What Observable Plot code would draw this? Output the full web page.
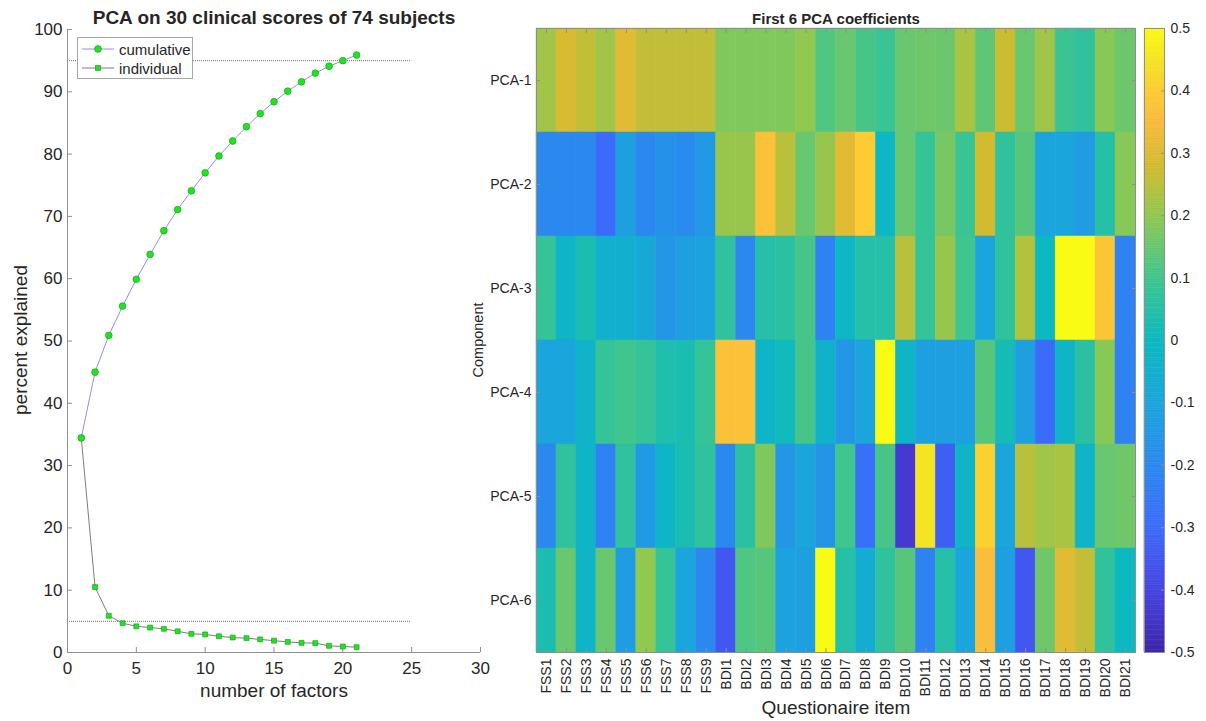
<!DOCTYPE html>
<html><head><meta charset="utf-8">
<script src="https://cdn.jsdelivr.net/npm/d3@7"></script>
<script src="https://cdn.jsdelivr.net/npm/@observablehq/plot@0.6"></script>
<style>
body{margin:0;background:#fff;font-family:"Liberation Sans",Arial,Helvetica,sans-serif;}
#root{position:relative;width:1206px;height:721px;overflow:hidden;background:#fff;}
.abs{position:absolute;left:0;top:0;}
.lbl{position:absolute;color:#262626;white-space:nowrap;transform:translate(-50%,-50%);line-height:1;}
#legend{position:absolute;left:77px;top:37px;width:114px;height:40px;border:1px solid #a6a6a6;background:#fff;font-size:15px;color:#262626;}
#legend .row{position:absolute;left:3px;height:18px;display:flex;align-items:center;}
#legend svg{display:block;margin-right:4px;}
</style></head><body><div id="root"></div>
<script>
// ---------- data ----------
const factors = [1,2,3,4,5,6,7,8,9,10,11,12,13,14,15,16,17,18,19,20,21];
const cumulative = [34.45,45.0,50.9,55.6,59.9,63.9,67.7,71.1,74.1,77.0,79.7,82.1,84.4,86.5,88.4,90.1,91.6,93.0,94.1,95.0,95.9];
const individual = [34.45,10.5,5.9,4.7,4.2,4.0,3.8,3.4,3.0,2.9,2.6,2.4,2.3,2.1,1.9,1.7,1.55,1.5,1.07,0.96,0.86];
const thresholds = [95, 5];
const xTicks = [0,5,10,15,20,25,30];
const yTicks = [0,10,20,30,40,50,60,70,80,90,100];

const items = ["FSS1","FSS2","FSS3","FSS4","FSS5","FSS6","FSS7","FSS8","FSS9",
  "BDI1","BDI2","BDI3","BDI4","BDI5","BDI6","BDI7","BDI8","BDI9","BDI10","BDI11",
  "BDI12","BDI13","BDI14","BDI15","BDI16","BDI17","BDI18","BDI19","BDI20","BDI21"];
const components = ["PCA-1","PCA-2","PCA-3","PCA-4","PCA-5","PCA-6"];
const coef1 = [0.22,0.29,0.26,0.22,0.31,0.26,0.26,0.26,0.26,0.18,0.18,0.18,0.18,0.20,0.12,0.15,0.11,0.09,0.15,0.16,0.155,0.23,0.14,0.27,0.15,0.22,0.09,0.07,0.19,0.155];
const coef2 = [-0.2,-0.2,-0.2,-0.3,-0.12,-0.2,-0.17,-0.19,-0.14,0.21,0.21,0.37,0.25,0.15,0.21,0.31,0.4,-0.01,0.15,0.08,0.17,0.09,0.28,0.07,0.13,-0.1,-0.1,-0.13,0.05,0.19];
const coef3 = [0.08,-0.02,0.03,-0.05,-0.05,-0.08,-0.15,-0.12,-0.11,0.07,-0.2,0.05,0.06,0.11,-0.22,-0.01,0.05,0.05,0.25,0.08,0.21,0.1,-0.1,0.07,0.24,0.0,0.5,0.5,0.38,-0.22];
const coef4 = [-0.1,-0.1,-0.03,0.08,0.1,0.08,0.04,0.03,0.08,0.37,0.37,-0.02,0.01,0.11,-0.04,-0.15,-0.1,0.5,-0.02,-0.12,-0.12,-0.12,0.13,0.02,-0.12,-0.3,-0.02,0.06,0.19,-0.22];
const coef5 = [-0.2,0.07,-0.02,-0.22,0.07,-0.14,-0.02,0.03,0.07,-0.2,0.06,0.18,-0.15,-0.1,-0.16,0.1,-0.28,0.11,-0.43,0.45,-0.33,-0.02,0.41,-0.1,0.25,0.22,0.23,-0.02,0.15,0.16];
const coef6 = [0.03,0.15,-0.02,0.15,-0.13,0.2,0.08,-0.1,-0.2,-0.35,0.12,0.13,-0.11,-0.12,0.5,0.05,-0.06,0.07,0.13,-0.22,0.05,-0.1,0.36,-0.12,-0.35,0.16,0.31,0.26,0.07,0.0];
const colorTicks = [-0.5,-0.4,-0.3,-0.2,-0.1,0,0.1,0.2,0.3,0.4,0.5];

// ---------- colormap (parula-like) ----------
const parulaPos = [0,0.1,0.2,0.3,0.4,0.5,0.6,0.7,0.78,0.85,0.9,0.95,1];
const parulaCol = ["#3e26a8","#4743e3","#3b6bfa","#2b88ef","#1aa5dc","#0cb9c0","#3fc58e","#90c850","#d2bb2e","#f8ba3e","#fccc32","#f4e424","#f9fb14"];
const parulaScale = d3.scaleLinear().domain(parulaPos).range(parulaCol).interpolate(d3.interpolateRgb).clamp(true);
const parula = (t) => parulaScale(t);
const colorOpts = {type: "linear", domain: [-0.5, 0.5], interpolate: parula, clamp: true};

const root = document.getElementById("root");
const font = '"Liberation Sans",Arial,Helvetica,sans-serif';
const axisGray = "#8f8f8f";
const textCol = "#262626";

function place(el, left, top) {
  el.classList.add("abs");
  el.style.left = left + "px";
  el.style.top = top + "px";
  root.appendChild(el);
}
function label(text, x, y, size, opts = {}) {
  const d = document.createElement("div");
  d.className = "lbl";
  d.textContent = text;
  d.style.left = x + "px";
  d.style.top = y + "px";
  d.style.fontSize = size + "px";
  if (opts.bold) d.style.fontWeight = "bold";
  if (opts.rotate) d.style.transform = "translate(-50%,-50%) rotate(-90deg)";
  root.appendChild(d);
}

// ---------- left chart ----------
const pts = factors.map((f, i) => ({f, cum: cumulative[i], ind: individual[i]}));
const left = Plot.plot({
  width: 490, height: 721,
  marginLeft: 67, marginRight: 10, marginTop: 29, marginBottom: 69,
  x: {domain: [0, 30]},
  y: {domain: [0, 100]},
  style: {fontFamily: font, background: "transparent", color: textCol, overflow: "visible"},
  marks: [
    Plot.ruleY(thresholds, {x1: 0, x2: 25, stroke: "#555", strokeWidth: 0.8, strokeDasharray: "1,1"}),
    Plot.ruleX([0], {stroke: axisGray}),
    Plot.ruleY([0], {stroke: axisGray}),
    Plot.axisX({ticks: xTicks, tickSize: -5, tickFormat: () => "", color: axisGray, label: null}),
    Plot.axisX({ticks: xTicks, tickSize: 0, tickPadding: 9, fontSize: 17, label: null, color: textCol}),
    Plot.axisY({ticks: yTicks, tickSize: -5, tickFormat: () => "", color: axisGray, label: null}),
    Plot.axisY({ticks: yTicks, tickSize: 0, tickPadding: 5, fontSize: 17, label: null, color: textCol}),
    Plot.line(pts, {x: "f", y: "ind", stroke: "#7d7d7d", strokeWidth: 1}),
    Plot.dot(pts, {x: "f", y: "ind", symbol: "square", r: 2.8, fill: "#1fe41f", stroke: "#129a12", strokeWidth: 0.6}),
    Plot.line(pts, {x: "f", y: "cum", stroke: "#8f8fec", strokeWidth: 1}),
    Plot.dot(pts, {x: "f", y: "cum", r: 3.4, fill: "#1fe41f", stroke: "#129a12", strokeWidth: 0.6})
  ]
});
place(left, 0, 0);

// ---------- heatmap ----------
const coefs = [coef1, coef2, coef3, coef4, coef5, coef6];
const cells = [];
components.forEach((c, r) => coefs[r].forEach((v, i) => cells.push({item: items[i], comp: c, v})));
const heat = Plot.plot({
  width: 766, height: 721,
  marginLeft: 96, marginRight: 71, marginTop: 28, marginBottom: 69,
  x: {domain: items, padding: 0, round: false},
  y: {domain: components, padding: 0, round: false},
  color: colorOpts,
  style: {fontFamily: font, background: "transparent", color: textCol, overflow: "visible"},
  marks: [
    Plot.cell(cells, {x: "item", y: "comp", fill: "v", stroke: "v", strokeWidth: 0.5, inset: 0}),
    Plot.frame({stroke: axisGray}),
    Plot.axisX({anchor: "bottom", tickSize: -4, tickFormat: () => "", color: axisGray, label: null}),
    Plot.axisX({anchor: "top", tickSize: -4, tickFormat: () => "", color: axisGray, label: null}),
    Plot.axisX({anchor: "bottom", tickSize: 0, tickPadding: 6, tickRotate: -90, fontSize: 14, label: null, color: textCol}),
    Plot.axisY({anchor: "left", tickSize: -4, tickFormat: () => "", color: axisGray, label: null}),
    Plot.axisY({anchor: "right", tickSize: -4, tickFormat: () => "", color: axisGray, label: null}),
    Plot.axisY({anchor: "left", tickSize: 0, tickPadding: 5, fontSize: 14, label: null, color: textCol})
  ]
});
place(heat, 440, 0);

// ---------- colorbar ----------
const rampStep = 0.004;
const ramp = d3.range(0, 250).map(i => -0.5 + i * rampStep);
const cbar = Plot.plot({
  width: 66, height: 721,
  marginLeft: 4, marginRight: 42, marginTop: 28, marginBottom: 69,
  x: {domain: [0, 1], axis: null},
  y: {domain: [-0.5, 0.5]},
  color: colorOpts,
  style: {fontFamily: font, background: "transparent", color: textCol, overflow: "visible"},
  marks: [
    Plot.rect(ramp, {x1: 0, x2: 1, y1: d => d, y2: d => d + rampStep, fill: d => d + rampStep / 2, stroke: d => d + rampStep / 2, strokeWidth: 0.5}),
    Plot.frame({stroke: axisGray}),
    Plot.axisY({anchor: "right", ticks: colorTicks, tickSize: -4, tickFormat: () => "", color: axisGray, label: null}),
    Plot.axisY({anchor: "right", ticks: colorTicks, tickSize: 0, tickPadding: 6, fontSize: 14, label: null, color: textCol, tickFormat: d => String(d)})
  ]
});
place(cbar, 1140, 0);

// ---------- titles & axis labels ----------
label("PCA on 30 clinical scores of 74 subjects", 274, 17, 19, {bold: true});
label("percent explained", 20, 340, 19, {rotate: true});
label("number of factors", 274, 690, 19);
label("First 6 PCA coefficients", 836, 18, 15, {bold: true});
label("Component", 478, 340, 14.5, {rotate: true});
label("Questionaire item", 836, 707, 19);

// ---------- legend ----------
const lg = document.createElement("div");
lg.id = "legend";
const entries = [
  {name: "cumulative", line: "#8f8fec", shape: "circle", top: 2},
  {name: "individual", line: "#7d7d7d", shape: "square", top: 21}
];
entries.forEach(e => {
  const row = document.createElement("div");
  row.className = "row";
  row.style.top = e.top + "px";
  const ns = "http://www.w3.org/2000/svg";
  const s = document.createElementNS(ns, "svg");
  s.setAttribute("width", "34"); s.setAttribute("height", "18");
  const ln = document.createElementNS(ns, "line");
  ln.setAttribute("x1", "1"); ln.setAttribute("x2", "33"); ln.setAttribute("y1", "9"); ln.setAttribute("y2", "9");
  ln.setAttribute("stroke", e.line); ln.setAttribute("stroke-width", "1");
  s.appendChild(ln);
  let m;
  if (e.shape === "circle") {
    m = document.createElementNS(ns, "circle");
    m.setAttribute("cx", "17"); m.setAttribute("cy", "9"); m.setAttribute("r", "3.4");
  } else {
    m = document.createElementNS(ns, "rect");
    m.setAttribute("x", "14.5"); m.setAttribute("y", "6.5"); m.setAttribute("width", "5"); m.setAttribute("height", "5");
  }
  m.setAttribute("fill", "#1fe41f"); m.setAttribute("stroke", "#129a12"); m.setAttribute("stroke-width", "0.6");
  s.appendChild(m);
  row.appendChild(s);
  const t = document.createElement("span");
  t.textContent = e.name;
  row.appendChild(t);
  lg.appendChild(row);
});
root.appendChild(lg);
</script>
</body></html>
